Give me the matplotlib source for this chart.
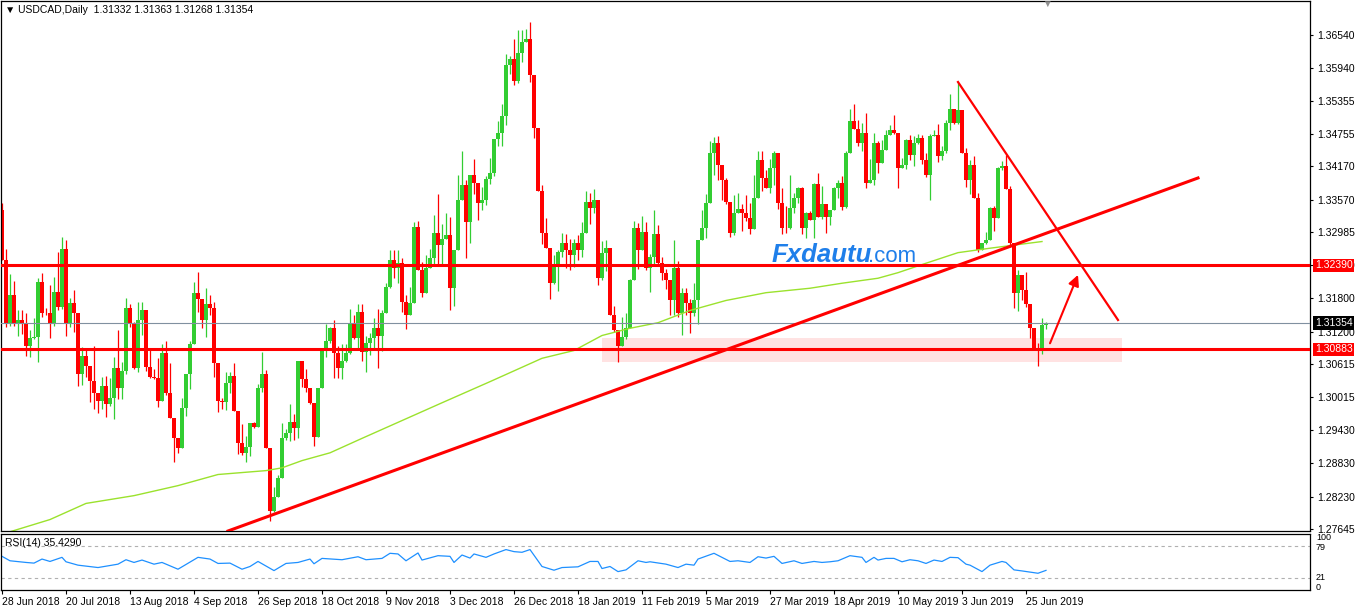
import matplotlib.pyplot as plt
from matplotlib.patches import Rectangle
import matplotlib.transforms as mtransforms

plt.rcParams['font.family'] = ['Liberation Sans', 'DejaVu Sans']

# USDCAD daily, 28 Jun 2018 .. 2 Jul 2019
first_open = 1.3338
closes = [
    1.3248, 1.3136, 1.3185, 1.3136, 1.3140, 1.3133, 1.3095, 1.3109, 1.3111, 1.3210,
    1.3154, 1.3153, 1.3135, 1.3192, 1.3165, 1.3268, 1.3136, 1.3172, 1.3153, 1.3043,
    1.3077, 1.3059, 1.3032, 1.3010, 1.2996, 1.3023, 1.2989, 1.3001, 1.3054, 1.3019,
    1.3050, 1.3163, 1.3135, 1.3055, 1.3140, 1.3158, 1.3057, 1.3039, 1.3037, 1.2996,
    1.3082, 1.3010, 1.2964, 1.2928, 1.2910, 1.2982, 1.3043, 1.3097, 1.3189, 1.3178,
    1.3140, 1.3169, 1.3162, 1.3064, 1.2996, 1.2994, 1.3027, 1.3041, 1.2978, 1.2919,
    1.2902, 1.2913, 1.2955, 1.2949, 1.3019, 1.3043, 1.2910, 1.2798, 1.2823, 1.2857,
    1.2928, 1.2938, 1.2958, 1.2946, 1.3068, 1.3034, 1.3019, 1.2991, 1.2931, 1.3018,
    1.3088, 1.3104, 1.3126, 1.3081, 1.3054, 1.3068, 1.3082, 1.3135, 1.3109, 1.3156,
    1.3084, 1.3099, 1.3109, 1.3126, 1.3113, 1.3153, 1.3201, 1.3248, 1.3234, 1.3243,
    1.3174, 1.3149, 1.3171, 1.3309, 1.3230, 1.3189, 1.3234, 1.3253, 1.3298, 1.3275,
    1.3286, 1.3293, 1.3198, 1.3266, 1.3356, 1.3383, 1.3318, 1.3401, 1.3388, 1.3351,
    1.3356, 1.3394, 1.3406, 1.3466, 1.3477, 1.3507, 1.3599, 1.3610, 1.3570, 1.3621,
    1.3640, 1.3646, 1.3581, 1.3487, 1.3372, 1.3298, 1.3271, 1.3208, 1.3241, 1.3264,
    1.3280, 1.3266, 1.3257, 1.3279, 1.3266, 1.3297, 1.3354, 1.3343, 1.3356, 1.3216,
    1.3262, 1.3270, 1.3149, 1.3122, 1.3095, 1.3111, 1.3126, 1.3212, 1.3307, 1.3266,
    1.3300, 1.3234, 1.3255, 1.3295, 1.3244, 1.3225, 1.3212, 1.3176, 1.3234, 1.3153,
    1.3189, 1.3172, 1.3154, 1.3176, 1.3284, 1.3306, 1.3352, 1.3441, 1.3459, 1.3419,
    1.3392, 1.3354, 1.3297, 1.3333, 1.3340, 1.3334, 1.3325, 1.3304, 1.3361, 1.3428,
    1.3397, 1.3379, 1.3414, 1.3442, 1.3351, 1.3307, 1.3306, 1.3343, 1.3360, 1.3378,
    1.3307, 1.3333, 1.3320, 1.3385, 1.3327, 1.3349, 1.3327, 1.3338, 1.3379, 1.3387,
    1.3345, 1.3442, 1.3498, 1.3484, 1.3459, 1.3477, 1.3388, 1.3392, 1.3460, 1.3423,
    1.3446, 1.3473, 1.3482, 1.3478, 1.3415, 1.3419, 1.3464, 1.3437, 1.3460, 1.3468,
    1.3428, 1.3401, 1.3471, 1.3473, 1.3435, 1.3445, 1.3495, 1.3520, 1.3496, 1.3518,
    1.3441, 1.3392, 1.3419, 1.3361, 1.3266, 1.3280, 1.3284, 1.3343, 1.3325, 1.3414,
    1.3417, 1.3376, 1.3279, 1.3190, 1.3221, 1.3194, 1.3169, 1.3126, 1.3091, 1.3086,
    1.3131, 1.31354]

# wick lengths in pips above / below the body
upper_pips = [
    14, 21, 39, 26, 19, 19, 21, 13, 34, 6, 15, 8, 50, 27, 71, 22, 17, 8, 22, 0,
    16, 11, 0, 62, 0, 16, 18, 36, 21, 68, 15, 18, 7, 3, 34, 16, 0, 34, 14, 36,
    16, 21, 54, 0, 0, 18, 0, 6, 21, 38, 0, 29, 17, 12, 0, 4, 21, 6, 22, 0,
    35, 19, 0, 2, 6, 40, 8, 0, 17, 6, 27, 6, 31, 13, 0, 0, 18, 0, 0, 0,
    0, 30, 3, 15, 13, 30, 15, 25, 15, 14, 14, 14, 9, 18, 35, 6, 7, 18, 19, 23,
    10, 11, 30, 9, 10, 15, 24, 15, 31, 69, 27, 41, 33, 1, 45, 61, 10, 0, 30, 0,
    24, 6, 27, 0, 21, 23, 21, 5, 36, 42, 22, 19, 30, 0, 0, 12, 27, 0, 16, 2,
    18, 15, 20, 8, 14, 21, 19, 15, 21, 0, 21, 15, 0, 17, 0, 36, 27, 3, 12, 9,
    28, 17, 5, 44, 16, 10, 8, 0, 50, 13, 9, 9, 7, 31, 0, 33, 15, 21, 11, 12,
    1, 5, 0, 33, 29, 9, 32, 27, 40, 16, 17, 14, 16, 2, 0, 27, 39, 59, 10, 2,
    2, 3, 4, 2, 21, 32, 0, 0, 1, 6, 12, 3, 22, 31, 17, 19, 37, 39, 18, 3,
    18, 9, 9, 27, 0, 14, 2, 9, 12, 8, 5, 13, 5, 9, 21, 9, 5, 28, 0, 49,
    0, 10, 9, 16, 9, 0, 15, 2, 3, 2, 9, 21, 5, 0, 9, 0, 33, 0, 0, 9,
    14, 1]
lower_pips = [
    0, 7, 6, 6, 24, 17, 18, 20, 3, 45, 8, 3, 26, 5, 6, 5, 24, 7, 34, 20,
    19, 20, 39, 29, 22, 15, 23, 3, 39, 21, 20, 7, 6, 2, 7, 26, 7, 2, 2, 11,
    0, 4, 0, 43, 8, 0, 13, 27, 0, 23, 14, 29, 12, 26, 21, 13, 15, 17, 0, 19,
    4, 17, 16, 3, 0, 7, 0, 18, 2, 0, 0, 3, 15, 21, 17, 14, 7, 2, 16, 0,
    0, 14, 5, 45, 18, 20, 3, 3, 3, 22, 17, 36, 21, 21, 58, 27, 0, 2, 18, 26,
    18, 24, 0, 0, 0, 6, 0, 0, 11, 36, 33, 0, 39, 32, 0, 0, 65, 39, 20, 30,
    12, 8, 9, 6, 13, 24, 16, 15, 7, 3, 16, 0, 12, 18, 0, 21, 0, 30, 3, 48,
    9, 31, 27, 20, 18, 12, 0, 30, 9, 12, 3, 33, 0, 3, 30, 0, 5, 0, 0, 33,
    0, 3, 42, 15, 2, 12, 15, 27, 27, 6, 39, 22, 36, 6, 42, 0, 18, 0, 40, 27,
    35, 5, 7, 3, 0, 33, 6, 8, 0, 0, 24, 0, 10, 30, 10, 12, 9, 1, 9, 9,
    12, 18, 0, 31, 0, 4, 30, 15, 0, 18, 7, 3, 0, 0, 6, 15, 10, 0, 9, 17,
    0, 0, 0, 3, 36, 0, 6, 9, 19, 3, 6, 3, 45, 0, 10, 6, 4, 13, 3, 2,
    0, 12, 24, 0, 3, 0, 3, 0, 24, 0, 4, 0, 6, 27, 33, 18, 5, 18, 0, 27,
    6, 6]

# 200-day moving average (read at a few bars)
ma_bars = [2, 12, 21, 33, 44, 54, 66, 70, 75, 82, 90, 100, 110, 122, 135, 143,
           150, 157, 164, 172, 181, 191, 202, 210, 219, 224, 231, 239, 247, 260]
ma_vals = [1.2760, 1.2782, 1.2811, 1.2825, 1.2843, 1.2863, 1.2870, 1.2875, 1.2888,
           1.2902, 1.2928, 1.2960, 1.2992, 1.3030, 1.3072, 1.3086, 1.3113, 1.3126,
           1.3136, 1.3158, 1.3176, 1.3190, 1.3198, 1.3207, 1.3216, 1.3226, 1.3243,
           1.3262, 1.3270, 1.3282]

# RSI(14)
rsi_bars = [0, 2, 6, 8, 10, 12, 15, 16, 19, 24, 29, 31, 33, 35, 38, 40, 44, 49, 52,
            54, 57, 60, 62, 64, 68, 71, 74, 77, 78, 80, 85, 89, 91, 95, 97, 99, 101,
            104, 105, 109, 112, 113, 115, 117, 118, 121, 123, 126, 128, 130, 132,
            135, 138, 140, 144, 147, 149, 150, 152, 154, 156, 159, 161, 162, 166,
            169, 171, 173, 174, 178, 182, 184, 187, 189, 191, 193, 195, 198, 200,
            203, 205, 207, 209, 212, 215, 216, 218, 219, 221, 223, 225, 227, 229,
            231, 233, 235, 237, 239, 241, 242, 245, 247, 250, 251, 253, 255, 259, 261]
rsi_vals = [60.7, 52.7, 49.7, 48.5, 55.8, 51.5, 58.9, 50.9, 44.8, 40.5, 46.6, 54.6,
            49.7, 54.0, 46.6, 49.7, 37.5, 58.9, 55.8, 47.9, 48.5, 37.5, 42.4, 51.5,
            35.0, 47.9, 49.7, 55.8, 47.3, 57.0, 54.6, 60.0, 54.6, 57.0, 66.2, 65.0,
            52.7, 66.8, 54.0, 61.9, 60.7, 49.7, 63.1, 57.6, 65.0, 58.9, 65.0, 72.9,
            69.2, 68.0, 72.9, 42.4, 35.7, 40.5, 41.8, 51.5, 51.5, 38.7, 42.4, 33.2,
            36.3, 52.7, 49.7, 50.9, 46.6, 40.5, 46.6, 44.8, 55.8, 66.2, 51.5, 52.7,
            49.7, 60.0, 57.6, 60.7, 47.9, 52.7, 47.9, 51.5, 49.7, 50.9, 52.7, 61.9,
            58.9, 49.7, 58.9, 54.0, 57.0, 57.0, 50.9, 54.6, 52.7, 47.9, 54.0, 51.5,
            58.9, 58.3, 46.6, 44.8, 33.2, 44.8, 51.5, 49.7, 36.3, 34.4, 30.2, 35.4]

date_bars = list(range(0, 257, 16))
date_labels = ['28 Jun 2018', '20 Jul 2018', '13 Aug 2018', '4 Sep 2018',
               '26 Sep 2018', '18 Oct 2018', '9 Nov 2018', '3 Dec 2018',
               '26 Dec 2018', '18 Jan 2019', '11 Feb 2019', '5 Mar 2019',
               '27 Mar 2019', '18 Apr 2019', '10 May 2019', '3 Jun 2019',
               '25 Jun 2019']
price_ticks = [1.36540, 1.35940, 1.35355, 1.34755, 1.34170, 1.33570, 1.32985,
               1.32390, 1.31800, 1.31200, 1.30615, 1.30015, 1.29430, 1.28830,
               1.28230, 1.27645]

resistance = 1.32390
support = 1.30883
last_price = 1.31354
zone = (150, 280, 1.3066, 1.3109)          # bar from, bar to, low, high
up_trend = ([56.5, 299], [1.27614, 1.33963])
down_trend = ([239, 279], [1.35689, 1.31409])
arrow_from = (262, 1.3099)
arrow_to = (269, 1.3222)

GREEN = '#32cd32'
RED = '#ff0000'
W, H = 1355, 608

opens = [first_open] + closes[:-1]

fig = plt.figure(figsize=(W / 100, H / 100), dpi=100)
ax = fig.add_axes([1 / W, (H - 531) / H, 1309 / W, 530 / H])
rsi_ax = fig.add_axes([1 / W, (H - 590) / H, 1309 / W, 56 / H])

# candles
for i in range(len(closes)):
    o, c = opens[i], closes[i]
    col = GREEN if c >= o else RED
    top = max(o, c)
    bot = min(o, c)
    hi = top + upper_pips[i] * 0.0001
    lo = bot - lower_pips[i] * 0.0001
    ax.vlines(i, lo, hi, color=col, lw=0.9, zorder=2)
    ax.bar(i, max(top - bot, 0.0001), bottom=bot, width=0.78, color=col,
           linewidth=0, zorder=2)

ax.plot(ma_bars, ma_vals, color='#9be22d', lw=1, zorder=2.5)

ax.add_patch(Rectangle((zone[0], zone[2]), zone[1] - zone[0], zone[3] - zone[2],
                       facecolor='#ffe2e2', edgecolor='none', zorder=0))
ax.axhline(resistance, color=RED, lw=2.2, zorder=3)
ax.axhline(support, color=RED, lw=2.2, zorder=3)
ax.axhline(last_price, color='#8090a0', lw=0.8, zorder=3)
ax.plot(up_trend[0], up_trend[1], color=RED, lw=2.2, zorder=3)
ax.plot(down_trend[0], down_trend[1], color=RED, lw=1.6, zorder=3)
ax.annotate('', xy=arrow_to, xytext=arrow_from,
            arrowprops=dict(arrowstyle='-|>', color=RED, lw=1.5,
                            mutation_scale=16, shrinkA=0, shrinkB=0), zorder=4)

ax.set_xlim(-0.25, 327)
ax.set_ylim(1.27614, 1.37146)
ax.set_xticks([])
ax.yaxis.tick_right()
ax.set_yticks(price_ticks)
ax.set_yticklabels(['%.5f' % p for p in price_ticks])
ax.tick_params(axis='y', length=2.5, width=0.8, pad=2.5, labelsize=7.5)
for s in ax.spines.values():
    s.set_linewidth(0.9)

# price tags on the right
tr = mtransforms.blended_transform_factory(ax.transAxes, ax.transData)
for val, bg in [(resistance, RED), (support, RED), (last_price, 'black')]:
    ax.text(1.0 + 5 / 1309, val, '%.5f' % val, transform=tr, fontsize=7.5,
            color='white', va='center', ha='left', clip_on=False,
            bbox=dict(facecolor=bg, edgecolor='none', pad=1.2), zorder=5)

# RSI panel
rsi_ax.plot(rsi_bars, rsi_vals, color='#1e90ff', lw=0.9)
for lvl in (79, 21):
    rsi_ax.axhline(lvl, color='#b0b0b0', lw=0.8, ls=(0, (3, 3)))
rsi_ax.set_xlim(-0.25, 327)
rsi_ax.set_ylim(0, 101)
rsi_ax.set_yticks([])
rsi_ax.set_xticks(date_bars)
rsi_ax.set_xticklabels(date_labels, ha='left', fontsize=7.5)
rsi_ax.tick_params(axis='x', length=3, width=0.8, pad=2)
for s in rsi_ax.spines.values():
    s.set_linewidth(0.9)

for txt, ypx in [('100', 538), ('79', 548), ('21', 577), ('0', 587)]:
    fig.text(1316 / W, 1 - ypx / H, txt, fontsize=6.5, va='center', ha='left')

fig.text(5 / W, 1 - 10 / H, '\u25bc USDCAD,Daily  1.31332 1.31363 1.31268 1.31354',
         fontsize=7.5, va='center', ha='left')
fig.text(5 / W, 1 - 543 / H, 'RSI(14) 35.4290', fontsize=7.5, va='center', ha='left')
fig.text(1047 / W, 1 - 4 / H, '\u25bc', fontsize=7, color='#909090',
         va='center', ha='center')

# watermark
fig.text(772 / W, 1 - 262 / H, 'Fxdautu', fontsize=18.5, fontweight='bold',
         fontstyle='italic', color='#1f7fea', va='baseline', ha='left')
fig.text(868 / W, 1 - 262 / H, '.com', fontsize=16, color='#1f7fea',
         va='baseline', ha='left')

fig.savefig('out.png', dpi=100, facecolor='white')
